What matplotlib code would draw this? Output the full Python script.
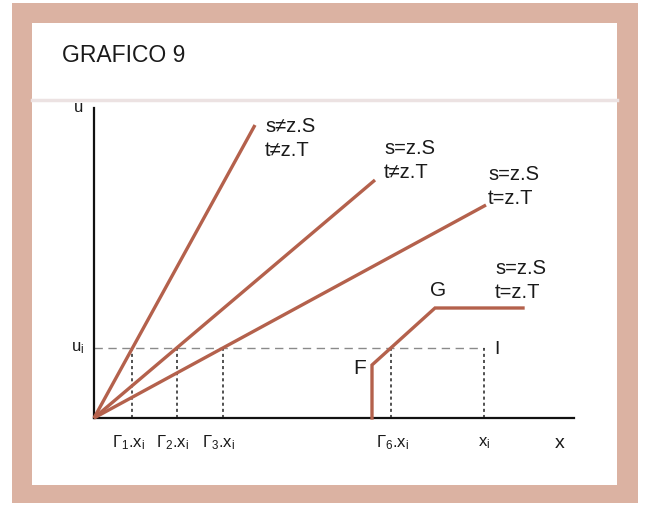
import matplotlib
matplotlib.use("Agg")
import matplotlib.pyplot as plt
from matplotlib.patches import Rectangle

plt.rcParams['font.family'] = ['Liberation Sans', 'DejaVu Sans']
plt.rcParams['mathtext.fontset'] = 'custom'
plt.rcParams['mathtext.rm'] = 'Liberation Sans'
plt.rcParams['mathtext.it'] = 'Liberation Sans'
plt.rcParams['mathtext.bf'] = 'Liberation Sans:bold'

# ---- data (diagram units: origin at the axes corner) ----
title = "GRAFICO 9"
u_i = 70
x_i = 390
ray_end_x = [161, 281, 392]
ray_end_u = [293, 238, 213]
ray_labels = [("s≠z.S", "t≠z.T"), ("s=z.S", "t≠z.T"), ("s=z.S", "t=z.T")]
kink_x = [278, 278, 341, 429]
kink_u = [0, 53, 110, 110]
kink_label = ("s=z.S", "t=z.T")
gamma_labels = [r"$\Gamma_1$.x$_i$", r"$\Gamma_2$.x$_i$", r"$\Gamma_3$.x$_i$"]
gamma6_label = r"$\Gamma_6$.x$_i$"
xi_label = r"x$_i$"
axis_x_max = 480
axis_u_max = 310

W, H = 653, 513
OX, OY = 94, 418  # pixel position of origin

fig = plt.figure(figsize=(W / 100, H / 100), dpi=100)
ax = fig.add_axes([0, 0, 1, 1])
ax.set_xlim(-OX, W - OX)
ax.set_ylim(OY - H, OY)
ax.axis('off')

def P(px, py):
    return px - OX, OY - py

# frame
frame_col = '#dbb2a2'
x0, y0 = P(12, 503)
ax.add_patch(Rectangle((x0, y0), 626, 500, facecolor=frame_col, edgecolor='none', zorder=0))
x0, y0 = P(32, 485)
ax.add_patch(Rectangle((x0, y0), 585, 462, facecolor='white', edgecolor='none', zorder=0.5))
# faint scan band
bx0, by = P(32, 100)
ax.plot([bx0, bx0 + 585], [by, by], color='#ece2e2', lw=2.5, zorder=0.6)

line_col = '#b4614c'

# axes
ax.plot([0, 0], [0, axis_u_max], color='#111111', lw=1.6, zorder=3)
ax.plot([0, axis_x_max], [0, 0], color='#111111', lw=1.6, zorder=3)

# u_i dashed horizontal
ax.plot([0, x_i], [u_i, u_i], color='#8a8a8a', lw=1.0, dashes=(6, 4), zorder=2)

# rays
for ex, eu in zip(ray_end_x, ray_end_u):
    ax.plot([0, ex], [0, eu], color=line_col, lw=2.4, solid_capstyle='butt', zorder=4)

# crossing points and dotted verticals
cross = [u_i * ex / eu for ex, eu in zip(ray_end_x, ray_end_u)]
for cx in cross:
    ax.plot([cx, cx], [0, u_i], color='#222222', lw=1.1, dashes=(2, 2), zorder=2)

# kinked line F-G
ax.plot(kink_x, kink_u, color=line_col, lw=2.4, solid_joinstyle='miter', zorder=4)
g6 = kink_x[1] + (u_i - kink_u[1]) * (kink_x[2] - kink_x[1]) / (kink_u[2] - kink_u[1])
ax.plot([g6, g6], [0, u_i], color='#222222', lw=1.1, dashes=(2, 2), zorder=2)
ax.plot([x_i, x_i], [0, u_i], color='#222222', lw=1.1, dashes=(2, 2), zorder=2)

# texts
tc = '#1a1a1a'
ax.text(*P(62, 55), title, fontsize=16.5, ha='left', va='center', color=tc)
ax.text(*P(79, 108), "u", fontsize=12, ha='center', va='center', color=tc)
ax.text(*P(84, 348), r"u$_i$", fontsize=12, ha='right', va='center', color=tc)

label_pos = [(265, 126, 151), (384, 148, 172), (488, 175, 198)]
for (lx, ly1, ly2), (a, b) in zip(label_pos, ray_labels):
    ax.text(*P(lx, ly1), a, fontsize=14.5, ha='left', va='center', color=tc)
    ax.text(*P(lx, ly2), b, fontsize=14.5, ha='left', va='center', color=tc)
ax.text(*P(495, 268), kink_label[0], fontsize=14.5, ha='left', va='center', color=tc)
ax.text(*P(495, 293), kink_label[1], fontsize=14.5, ha='left', va='center', color=tc)

ax.text(kink_x[1] - 12, kink_u[1] - 3, "F", fontsize=15, ha='center', va='center', color=tc)
ax.text(kink_x[2] + 3, kink_u[2] + 17, "G", fontsize=15, ha='center', va='center', color=tc)
ax.text(x_i + 13, u_i - 2, "I", fontsize=14, ha='center', va='center', color=tc)

ty = OY - 443
for cx, lab in zip(cross, gamma_labels):
    ax.text(cx - 4, ty, lab, fontsize=12, ha='center', va='center', color=tc)
ax.text(g6 + 2, ty, gamma6_label, fontsize=12, ha='center', va='center', color=tc)
ax.text(x_i, ty, xi_label, fontsize=12, ha='center', va='center', color=tc)
ax.text(466, ty, "x", fontsize=14, ha='center', va='center', color=tc)

fig.savefig("out.png", dpi=100)
